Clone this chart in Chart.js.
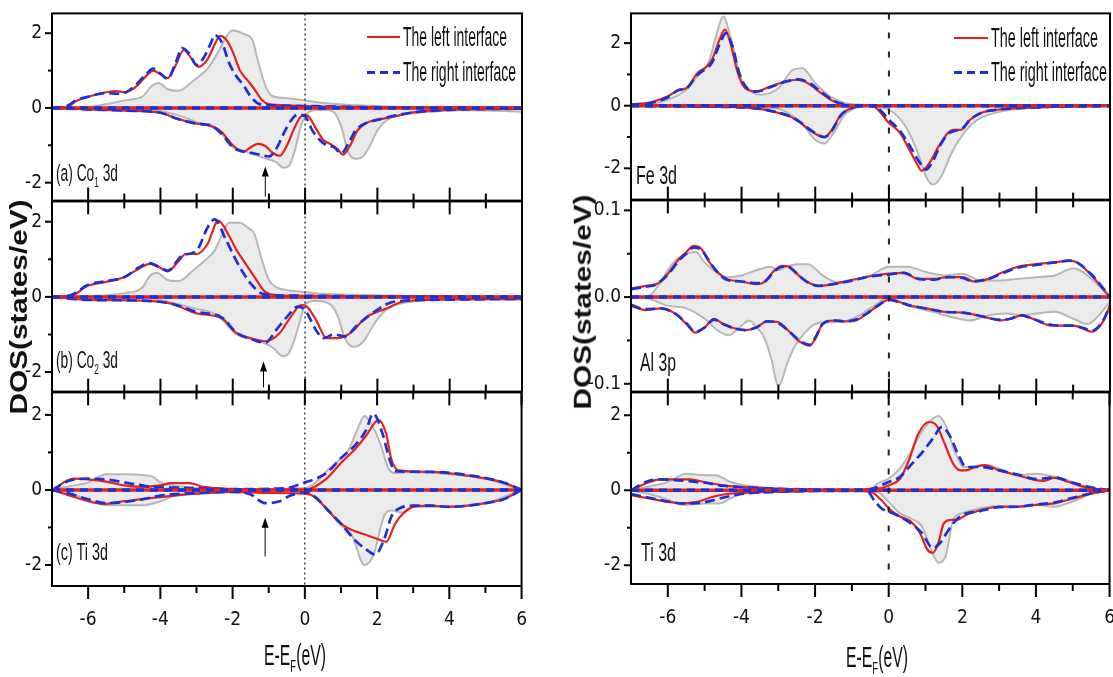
<!DOCTYPE html>
<html>
<head>
<meta charset="utf-8">
<title>DOS interfaces</title>
<script src="https://cdn.jsdelivr.net/npm/chart.js@4.4.1/dist/chart.umd.min.js"></script>
<style>
  html, body { margin: 0; padding: 0; background: #fff; }
  body { position: relative; width: 1113px; height: 677px; overflow: hidden; }
  canvas { position: absolute; }
  .txt { position: absolute; white-space: nowrap; font-family: "Liberation Sans", Arial, sans-serif; color: #111; transform-origin: 0 50%; }
  .txt sub { font-size: 0.6em; vertical-align: -0.4em; line-height: 0; }
  .vt { transform-origin: 50% 50%; font-weight: bold; }
  .key { position: absolute; height: 3px; }
</style>
</head>
<body>
<script>
const RED = '#e2231f', BLUE = '#1f2fd6', GRAY_LINE = '#b7b7b7', GRAY_FILL = '#ebebeb';
const FONT = "'Liberation Sans Narrow', 'DejaVu Sans Condensed', 'Liberation Sans', sans-serif";

// axis ticks
const eMajor = [-6, -4, -2, 0, 2, 4, 6];
const eMinor = [-5, -3, -1, 1, 3, 5];
const dosMajor = [-2, 0, 2];
const dosMinor = [-1, 1];
const alMajor = [-0.1, 0, 0.1];
const alMinor = [-0.05, 0.05];

// arrows in the left column (E, tip, tail)
const arrowE = [-1.1, -1.15, -1.1];
const arrowTip = [-1.57, -1.72, -0.74];
const arrowTail = [-2.37, -2.41, -1.77];

// (a) Co1 3d  -- [E, DOS]
const co1GrayUp = [[-7,0],[-6,0.02],[-5.5,0.1],[-5,0.2],[-4.5,0.3],[-4.25,0.58],[-4.05,0.67],[-3.8,0.5],[-3.5,0.46],[-3.1,0.72],[-2.7,1.05],[-2.4,1.5],[-2.15,1.95],[-2.0,2.07],[-1.7,1.98],[-1.45,1.8],[-1.3,1.25],[-1.1,0.6],[-0.9,0.32],[-0.5,0.26],[0,0.2],[0.5,0.13],[1.5,0.07],[2.5,0.03],[4,0.01],[6,0]];
const co1GrayDown = [[-7,0],[-5,-0.01],[-4,-0.08],[-3.5,-0.2],[-3,-0.38],[-2.5,-0.55],[-2.2,-0.8],[-2.0,-1.05],[-1.7,-1.15],[-1.4,-1.25],[-1.1,-1.35],[-0.8,-1.45],[-0.6,-1.6],[-0.45,-1.55],[-0.3,-1.2],[-0.12,-0.5],[0,-0.22],[0.2,-0.07],[0.5,-0.05],[0.8,-0.12],[1.0,-0.5],[1.2,-1.2],[1.4,-1.36],[1.6,-1.3],[1.8,-1.0],[2.0,-0.6],[2.3,-0.3],[2.7,-0.18],[3.5,-0.1],[4.5,-0.06],[6,-0.1]];
const co1LeftUp = [[-7,0],[-6.6,0.02],[-6.3,0.2],[-6,0.3],[-5.5,0.42],[-5.2,0.45],[-5,0.42],[-4.7,0.55],[-4.4,0.85],[-4.2,1.0],[-4.0,0.9],[-3.8,0.8],[-3.6,1.1],[-3.35,1.55],[-3.2,1.4],[-2.95,1.1],[-2.7,1.3],[-2.5,1.7],[-2.35,1.93],[-2.2,1.85],[-2.0,1.5],[-1.8,1.0],[-1.6,0.75],[-1.4,0.5],[-1.2,0.22],[-1.0,0.1],[-0.5,0.07],[0,0.05],[1,0.03],[3,0.01],[6,0]];
const co1LeftDown = [[-7,0],[-6,-0.04],[-5,-0.07],[-4,-0.13],[-3.5,-0.3],[-3,-0.42],[-2.6,-0.48],[-2.3,-0.65],[-2.0,-1.0],[-1.7,-1.17],[-1.5,-1.05],[-1.3,-0.96],[-1.1,-1.02],[-0.9,-1.2],[-0.7,-1.28],[-0.5,-1.0],[-0.3,-0.55],[-0.1,-0.22],[0.05,-0.2],[0.3,-0.55],[0.5,-0.85],[0.7,-0.97],[0.9,-1.1],[1.05,-1.25],[1.25,-1.0],[1.45,-0.6],[1.7,-0.4],[2.0,-0.32],[2.5,-0.22],[3,-0.12],[4,-0.05],[6,-0.02]];
const co1RightUp = [[-7,0],[-6.6,0.05],[-6.3,0.22],[-6,0.3],[-5.5,0.4],[-5.2,0.38],[-5,0.4],[-4.7,0.6],[-4.4,0.9],[-4.2,1.05],[-4.0,0.92],[-3.8,0.78],[-3.6,1.15],[-3.4,1.6],[-3.2,1.45],[-3.0,1.15],[-2.8,1.35],[-2.6,1.75],[-2.5,1.95],[-2.3,1.75],[-2.1,1.2],[-1.9,0.85],[-1.7,0.6],[-1.5,0.3],[-1.3,0.12],[-1.0,0.07],[0,0.05],[1,0.03],[3,0.01],[6,0]];
const co1RightDown = [[-7,0],[-6,-0.04],[-5,-0.07],[-4,-0.13],[-3.5,-0.3],[-3,-0.42],[-2.6,-0.47],[-2.3,-0.7],[-2.0,-1.05],[-1.7,-1.17],[-1.4,-1.22],[-1.2,-1.26],[-1.0,-1.3],[-0.8,-1.1],[-0.6,-0.7],[-0.4,-0.35],[-0.2,-0.18],[0,-0.22],[0.2,-0.6],[0.4,-0.85],[0.6,-1.0],[0.8,-1.05],[1.0,-1.22],[1.2,-0.95],[1.4,-0.6],[1.7,-0.4],[2.0,-0.32],[2.5,-0.2],[3,-0.12],[4,-0.05],[6,-0.02]];

// (b) Co2 3d
const co2GrayUp = [[-7,0],[-6,0.02],[-5,0.1],[-4.5,0.25],[-4.3,0.55],[-4.1,0.64],[-3.8,0.45],[-3.5,0.42],[-3.1,0.7],[-2.8,0.95],[-2.5,1.23],[-2.3,1.65],[-2.1,1.97],[-1.8,1.97],[-1.6,1.85],[-1.4,1.67],[-1.2,1.0],[-1.0,0.45],[-0.8,0.26],[-0.5,0.18],[0,0.13],[0.5,0.08],[1.5,0.05],[3,0.02],[6,0]];
const co2GrayDown = [[-7,0],[-5,-0.01],[-4,-0.08],[-3.5,-0.2],[-3,-0.32],[-2.5,-0.45],[-2.2,-0.7],[-1.9,-1.0],[-1.5,-1.12],[-1.2,-1.2],[-0.9,-1.35],[-0.6,-1.58],[-0.45,-1.5],[-0.3,-1.15],[-0.1,-0.5],[0,-0.2],[0.3,-0.1],[0.7,-0.2],[0.9,-0.5],[1.1,-1.1],[1.35,-1.33],[1.6,-1.2],[1.8,-0.9],[2.0,-0.6],[2.3,-0.3],[2.8,-0.15],[4,-0.07],[6,-0.08]];
const co2LeftUp = [[-7,0],[-6.5,0.02],[-6,0.3],[-5.5,0.4],[-5,0.53],[-4.6,0.75],[-4.3,0.88],[-4.05,0.8],[-3.8,0.68],[-3.5,0.95],[-3.3,1.14],[-3.0,1.14],[-2.7,1.4],[-2.4,2.03],[-2.1,1.62],[-1.9,1.25],[-1.7,0.96],[-1.4,0.53],[-1.1,0.13],[-0.7,0.04],[0,0.03],[2,0.01],[6,0]];
const co2LeftDown = [[-7,0],[-6,-0.08],[-4.5,-0.1],[-3.7,-0.18],[-3.0,-0.44],[-2.3,-0.57],[-1.9,-0.96],[-1.5,-1.1],[-1.1,-1.18],[-0.7,-0.96],[-0.45,-0.61],[-0.1,-0.22],[0.05,-0.26],[0.3,-0.61],[0.6,-1.1],[0.9,-1.1],[1.1,-1.05],[1.35,-0.88],[1.65,-0.57],[2.25,-0.31],[2.7,-0.13],[3.5,-0.08],[6,-0.05]];
const co2RightUp = [[-7,0],[-6.5,0.04],[-6,0.32],[-5.5,0.42],[-5,0.52],[-4.6,0.78],[-4.3,0.9],[-4.05,0.8],[-3.8,0.7],[-3.4,1.1],[-3.0,1.23],[-2.7,1.84],[-2.5,2.06],[-2.2,1.54],[-1.9,0.96],[-1.7,0.62],[-1.5,0.35],[-1.2,0.09],[-0.8,0.04],[0,0.03],[2,0.01],[6,0]];
const co2RightDown = [[-7,0],[-6,-0.08],[-4.5,-0.1],[-3.7,-0.18],[-3.0,-0.4],[-2.3,-0.55],[-1.9,-0.95],[-1.5,-1.12],[-1.1,-1.22],[-0.8,-0.88],[-0.5,-0.53],[-0.2,-0.26],[0,-0.35],[0.3,-0.88],[0.5,-1.1],[0.8,-1.0],[1.1,-1.05],[1.45,-0.75],[2.05,-0.31],[2.45,-0.13],[3.5,-0.08],[6,-0.05]];

// (c) Ti 3d, left column
const ti1GrayUp = [[-7,0],[-6.5,0.1],[-6,0.2],[-5.5,0.42],[-5,0.42],[-4.5,0.4],[-4.2,0.35],[-4,0.2],[-3.5,0.1],[-2,0.02],[0,0.05],[0.3,0.2],[0.6,0.5],[0.9,0.75],[1.2,1.05],[1.45,1.6],[1.65,1.97],[1.85,1.75],[2.1,1.2],[2.3,0.6],[2.5,0.45],[3,0.48],[4,0.42],[5,0.3],[6,0]];
const ti1GrayDown = [[-7,0],[-6.5,-0.1],[-6,-0.25],[-5.5,-0.41],[-4.5,-0.41],[-4,-0.3],[-3.5,-0.12],[-2.5,-0.04],[0,-0.05],[0.5,-0.41],[1.0,-0.94],[1.3,-1.2],[1.65,-2.0],[1.9,-1.74],[2.2,-0.68],[2.4,-0.55],[2.7,-0.6],[3,-0.45],[4,-0.45],[5,-0.35],[6,0]];
const ti1LeftUp = [[-7,0],[-6.4,0.3],[-6,0.28],[-5.5,0.22],[-5,0.12],[-4.5,0.08],[-4.0,0.12],[-3.7,0.18],[-3.2,0.18],[-2.8,0.08],[-2,0.02],[-1,0.0],[0,0.0],[0.3,0.1],[0.6,0.3],[1.0,0.72],[1.4,1.1],[1.7,1.45],[2.04,1.87],[2.25,1.5],[2.4,0.8],[2.6,0.52],[3.5,0.48],[4.5,0.38],[5.5,0.2],[6,0]];
const ti1LeftDown = [[-7,0],[-6.5,-0.15],[-6,-0.3],[-5.6,-0.37],[-5,-0.3],[-4,-0.19],[-3,-0.1],[-2,-0.05],[-1,-0.08],[0,-0.1],[0.3,-0.2],[0.6,-0.5],[1.0,-0.9],[1.3,-1.07],[1.7,-1.2],[2.0,-1.3],[2.25,-1.38],[2.5,-0.9],[2.7,-0.65],[3.0,-0.45],[3.5,-0.42],[4.0,-0.45],[4.5,-0.42],[5,-0.35],[5.5,-0.25],[6,0]];
const ti1RightUp = [[-7,0],[-6.5,0.25],[-6,0.3],[-5.5,0.28],[-5,0.2],[-4.5,0.12],[-4.2,0.08],[-3.5,0.06],[-2,0.02],[-0.5,0.05],[0,0.2],[0.3,0.3],[0.6,0.45],[1.0,0.85],[1.4,1.2],[1.7,1.6],[1.89,2.04],[2.15,1.5],[2.35,0.8],[2.5,0.5],[3.5,0.48],[4.5,0.4],[5.5,0.2],[6,0]];
const ti1RightDown = [[-7,0],[-6.5,-0.1],[-6,-0.25],[-5.5,-0.35],[-5,-0.32],[-4.5,-0.25],[-4,-0.15],[-3,-0.08],[-2,-0.05],[-1.5,-0.12],[-1.1,-0.35],[-0.7,-0.3],[-0.4,-0.15],[0,-0.05],[0.3,-0.2],[0.6,-0.5],[1.0,-0.9],[1.4,-1.35],[1.65,-1.55],[1.95,-1.72],[2.2,-1.3],[2.4,-0.7],[2.6,-0.5],[3,-0.42],[3.5,-0.42],[4,-0.45],[4.5,-0.42],[5,-0.35],[5.5,-0.25],[6,0]];

// Fe 3d
const feGrayUp = [[-7,0.02],[-6.5,0.05],[-6,0.19],[-5.5,0.51],[-5.2,0.94],[-4.9,1.36],[-4.65,2.4],[-4.5,2.85],[-4.3,2.2],[-4.1,1.2],[-4.0,0.83],[-3.8,0.51],[-3.5,0.35],[-3.0,0.56],[-2.6,1.15],[-2.35,1.2],[-2.0,0.72],[-1.6,0.3],[-1.2,0.09],[-0.8,0.03],[0,0.02],[6,0]];
const feGrayDown = [[-7,0],[-5,-0.02],[-4,-0.05],[-3,-0.1],[-2.6,-0.34],[-2.3,-0.66],[-2.0,-1.09],[-1.75,-1.21],[-1.5,-0.87],[-1.2,-0.29],[-0.9,-0.07],[-0.5,0],[-0.2,-0.05],[0.1,-0.2],[0.45,-0.66],[0.75,-1.4],[1.05,-2.36],[1.2,-2.52],[1.42,-2.26],[1.7,-1.51],[2.1,-0.77],[2.4,-0.45],[3.05,-0.18],[4.0,-0.07],[6,0]];
const feLeftUp = [[-7,0.05],[-6.5,0.1],[-6,0.3],[-5.7,0.51],[-5.5,0.56],[-5.2,1.04],[-4.95,1.25],[-4.8,1.47],[-4.6,2.1],[-4.45,2.43],[-4.3,2.0],[-4.1,1.04],[-3.9,0.56],[-3.6,0.46],[-3.2,0.62],[-2.8,0.78],[-2.5,0.83],[-2.2,0.72],[-1.9,0.46],[-1.5,0.14],[-1.2,0.03],[-0.5,0],[0,0.01],[6,0]];
const feLeftDown = [[-7,0],[-5,-0.03],[-4,-0.05],[-3.5,-0.1],[-3.0,-0.23],[-2.7,-0.34],[-2.4,-0.55],[-2.1,-0.82],[-1.75,-1.01],[-1.55,-0.77],[-1.3,-0.29],[-1.0,-0.07],[-0.6,0],[-0.35,-0.07],[0,-0.55],[0.3,-0.87],[0.55,-1.4],[0.75,-1.83],[0.88,-2.08],[1.1,-1.83],[1.35,-1.3],[1.6,-0.87],[1.75,-0.77],[1.95,-0.77],[2.2,-0.45],[2.5,-0.23],[3.0,-0.12],[4,-0.05],[6,0]];
const feRightUp = [[-7,0.03],[-6.5,0.08],[-6,0.27],[-5.7,0.5],[-5.5,0.55],[-5.2,0.98],[-4.95,1.2],[-4.8,1.38],[-4.6,1.95],[-4.42,2.32],[-4.25,1.9],[-4.05,1.0],[-3.85,0.56],[-3.6,0.45],[-3.2,0.6],[-2.8,0.77],[-2.45,0.84],[-2.15,0.72],[-1.85,0.45],[-1.45,0.13],[-1.15,0.03],[-0.5,0],[0,0.01],[6,0]];
const feRightDown = [[-7,0],[-5,-0.03],[-4,-0.05],[-3.5,-0.1],[-3.0,-0.22],[-2.7,-0.33],[-2.4,-0.53],[-2.1,-0.8],[-1.75,-1.0],[-1.55,-0.8],[-1.3,-0.3],[-1.0,-0.07],[-0.6,0],[-0.3,-0.08],[0,-0.45],[0.3,-0.8],[0.6,-1.35],[0.8,-1.75],[1.0,-2.04],[1.2,-1.75],[1.4,-1.25],[1.6,-0.9],[1.8,-0.8],[2.0,-0.72],[2.2,-0.45],[2.5,-0.23],[3.0,-0.12],[4,-0.05],[6,0]];

// Al 3p
const alGrayUp = [[-7,0],[-6.5,0.002],[-6.2,0.017],[-5.9,0.037],[-5.6,0.048],[-5.25,0.052],[-5.0,0.04],[-4.7,0.029],[-4.4,0.023],[-4.0,0.025],[-3.6,0.031],[-3.2,0.035],[-3.0,0.031],[-2.8,0.035],[-2.5,0.038],[-2.2,0.038],[-1.8,0.025],[-1.4,0.017],[-1.0,0.019],[-0.5,0.025],[0,0.035],[0.5,0.035],[1.0,0.029],[1.5,0.025],[2.0,0.027],[2.5,0.019],[3.0,0.019],[3.5,0.021],[4.0,0.023],[4.5,0.025],[5.0,0.033],[5.3,0.028],[5.6,0.017],[6,0]];
const alGrayDown = [[-7,0],[-6.5,-0.002],[-6,-0.01],[-5.5,-0.013],[-5.0,-0.025],[-4.6,-0.04],[-4.35,-0.044],[-4.0,-0.033],[-3.8,-0.027],[-3.55,-0.037],[-3.4,-0.045],[-3.2,-0.07],[-3.0,-0.103],[-2.75,-0.075],[-2.55,-0.056],[-2.3,-0.042],[-2.0,-0.031],[-1.6,-0.029],[-1.2,-0.028],[-0.8,-0.021],[-0.4,-0.01],[0,0],[0.4,-0.008],[0.8,-0.013],[1.2,-0.017],[1.7,-0.023],[2.2,-0.027],[2.7,-0.021],[3.2,-0.019],[3.6,-0.021],[4.0,-0.019],[4.5,-0.017],[5.0,-0.025],[5.4,-0.031],[5.7,-0.021],[6,-0.005]];
const alLeftUp = [[-7,0.01],[-6.6,0.013],[-6.3,0.015],[-6.0,0.027],[-5.7,0.044],[-5.5,0.052],[-5.3,0.059],[-5.1,0.056],[-4.9,0.042],[-4.7,0.031],[-4.4,0.021],[-4.0,0.018],[-3.6,0.015],[-3.4,0.017],[-3.1,0.031],[-2.9,0.036],[-2.7,0.035],[-2.45,0.025],[-2.2,0.017],[-1.9,0.013],[-1.5,0.015],[-1.0,0.02],[-0.5,0.024],[0,0.027],[0.4,0.028],[0.8,0.021],[1.2,0.021],[1.6,0.023],[2.0,0.023],[2.3,0.018],[2.7,0.021],[3.0,0.027],[3.5,0.035],[4.0,0.038],[4.5,0.04],[4.9,0.042],[5.1,0.04],[5.5,0.025],[5.8,0.01],[6,0]];
const alLeftDown = [[-7,-0.01],[-6.6,-0.015],[-6.2,-0.013],[-5.8,-0.019],[-5.5,-0.031],[-5.25,-0.041],[-5.0,-0.035],[-4.75,-0.025],[-4.5,-0.031],[-4.2,-0.036],[-3.9,-0.038],[-3.6,-0.035],[-3.3,-0.028],[-3.0,-0.029],[-2.7,-0.04],[-2.4,-0.052],[-2.15,-0.056],[-2.0,-0.048],[-1.8,-0.031],[-1.5,-0.027],[-1.2,-0.028],[-0.9,-0.027],[-0.6,-0.019],[-0.3,-0.01],[0,-0.003],[0.3,-0.006],[0.6,-0.01],[1.0,-0.013],[1.5,-0.017],[2.0,-0.018],[2.4,-0.021],[2.8,-0.025],[3.0,-0.027],[3.3,-0.025],[3.6,-0.021],[3.9,-0.025],[4.3,-0.032],[4.6,-0.033],[5.0,-0.033],[5.3,-0.037],[5.5,-0.04],[5.8,-0.029],[6,-0.01]];
const alRightUp = [[-7,0.009],[-6.6,0.012],[-6.3,0.015],[-6.0,0.026],[-5.7,0.042],[-5.5,0.05],[-5.3,0.057],[-5.1,0.055],[-4.9,0.043],[-4.7,0.031],[-4.4,0.02],[-4.0,0.018],[-3.6,0.016],[-3.4,0.017],[-3.1,0.03],[-2.9,0.035],[-2.7,0.034],[-2.45,0.025],[-2.2,0.017],[-1.9,0.013],[-1.5,0.015],[-1.0,0.019],[-0.5,0.024],[0,0.026],[0.4,0.028],[0.8,0.021],[1.2,0.02],[1.6,0.023],[2.0,0.022],[2.3,0.018],[2.7,0.021],[3.0,0.026],[3.5,0.034],[4.0,0.037],[4.5,0.04],[4.9,0.042],[5.1,0.04],[5.5,0.026],[5.8,0.011],[6,0]];
const alRightDown = [[-7,-0.009],[-6.6,-0.014],[-6.2,-0.013],[-5.8,-0.019],[-5.5,-0.03],[-5.25,-0.04],[-5.0,-0.035],[-4.75,-0.026],[-4.5,-0.031],[-4.2,-0.036],[-3.9,-0.038],[-3.6,-0.035],[-3.3,-0.028],[-3.0,-0.03],[-2.7,-0.04],[-2.4,-0.051],[-2.15,-0.055],[-2.0,-0.047],[-1.8,-0.031],[-1.5,-0.027],[-1.2,-0.028],[-0.9,-0.026],[-0.6,-0.019],[-0.3,-0.01],[0,-0.003],[0.3,-0.006],[0.6,-0.01],[1.0,-0.013],[1.5,-0.017],[2.0,-0.018],[2.4,-0.021],[2.8,-0.025],[3.0,-0.026],[3.3,-0.025],[3.6,-0.021],[3.9,-0.025],[4.3,-0.031],[4.6,-0.033],[5.0,-0.033],[5.3,-0.036],[5.5,-0.039],[5.8,-0.028],[6,-0.01]];

// Ti 3d, right column
const ti2GrayUp = [[-7,0],[-6.5,0.1],[-6,0.22],[-5.5,0.44],[-5.0,0.4],[-4.7,0.4],[-4.3,0.22],[-4.0,0.15],[-3,0.05],[-1,0.02],[-0.5,0.03],[-0.3,0.18],[0,0.31],[0.3,0.58],[0.6,1.02],[0.9,1.56],[1.2,1.91],[1.35,1.98],[1.55,1.73],[1.8,1.02],[2.05,0.62],[2.3,0.63],[2.6,0.68],[3.0,0.58],[3.5,0.4],[4.0,0.44],[4.5,0.36],[5.0,0.22],[5.5,0.05],[6,0]];
const ti2GrayDown = [[-7,0],[-6.5,-0.1],[-6,-0.25],[-5.6,-0.39],[-5.0,-0.35],[-4.6,-0.35],[-4.3,-0.22],[-4.0,-0.1],[-3,-0.04],[-1,-0.02],[-0.3,-0.05],[0,-0.31],[0.3,-0.61],[0.6,-0.75],[0.9,-0.96],[1.15,-1.58],[1.35,-1.93],[1.55,-1.75],[1.75,-0.79],[2.0,-0.61],[2.5,-0.48],[3.0,-0.42],[3.5,-0.44],[4.0,-0.39],[4.5,-0.44],[5.0,-0.3],[5.5,-0.1],[6,0]];
const ti2LeftUp = [[-7,0],[-6.6,0.18],[-6.2,0.29],[-5.8,0.29],[-5.4,0.29],[-5.0,0.22],[-4.5,0.13],[-4.0,0.09],[-3.0,0.04],[-2,0.02],[-1,0.01],[-0.5,0.03],[-0.2,0.06],[0,0.13],[0.3,0.3],[0.55,0.8],[0.8,1.5],[1.1,1.82],[1.3,1.73],[1.5,1.29],[1.75,0.71],[1.95,0.53],[2.1,0.53],[2.35,0.62],[2.6,0.67],[3.0,0.53],[3.5,0.4],[4.0,0.27],[4.2,0.25],[4.5,0.33],[4.9,0.22],[5.3,0.09],[5.6,0.04],[6,0]];
const ti2LeftDown = [[-7,-0.13],[-6.5,-0.22],[-6.0,-0.31],[-5.6,-0.35],[-5.2,-0.31],[-4.8,-0.18],[-4.4,-0.1],[-4.0,-0.07],[-3,-0.04],[-2,-0.02],[-1,-0.02],[-0.5,-0.04],[-0.2,-0.26],[0,-0.48],[0.3,-0.7],[0.6,-0.83],[0.85,-1.14],[1.05,-1.58],[1.2,-1.67],[1.35,-1.4],[1.5,-0.88],[1.7,-0.79],[1.85,-0.79],[2.1,-0.66],[2.5,-0.53],[3.0,-0.44],[3.5,-0.44],[4.0,-0.39],[4.5,-0.35],[5.0,-0.22],[5.5,-0.09],[6,0]];
const ti2RightUp = [[-7,0],[-6.6,0.22],[-6.2,0.29],[-5.8,0.27],[-5.4,0.24],[-5.0,0.2],[-4.5,0.12],[-4.0,0.08],[-3,0.04],[-2,0.02],[-1,0.01],[-0.5,0.03],[0,0.22],[0.3,0.35],[0.6,0.67],[0.9,1.0],[1.2,1.38],[1.45,1.69],[1.65,1.47],[1.9,0.93],[2.1,0.62],[2.5,0.62],[3.0,0.53],[3.5,0.42],[4.0,0.3],[4.5,0.34],[5.0,0.2],[5.5,0.08],[6,0]];
const ti2RightDown = [[-7,-0.1],[-6.5,-0.2],[-6,-0.3],[-5.6,-0.35],[-5.0,-0.32],[-4.6,-0.22],[-4,-0.1],[-3,-0.04],[-2,-0.02],[-1,-0.02],[-0.6,0],[-0.4,-0.26],[-0.2,-0.48],[0,-0.57],[0.3,-0.7],[0.6,-0.88],[0.9,-1.14],[1.2,-1.54],[1.4,-1.4],[1.6,-1.1],[1.8,-0.83],[2.0,-0.66],[2.5,-0.55],[3.0,-0.45],[3.5,-0.44],[4.0,-0.38],[4.5,-0.33],[5.0,-0.2],[5.5,-0.08],[6,0]];

// panel layout (pixels of the plot box) + which data goes in
const PAD = 15, YW = 50, PR = 12, XH = 45;
const fmtInt = v => String(v);
const fmtDec = v => v.toFixed(1);
const panels = [
  {left:52, right:522, top:13, bottom:201, yMin:-2.48, yMax:2.53, major:dosMajor, minor:dosMinor, fmt:fmtInt, first:true, last:false, dash:[2,3], arrow:0,
   curves:[co1GrayUp, co1GrayDown, co1LeftUp, co1LeftDown, co1RightUp, co1RightDown]},
  {left:52, right:522, top:201, bottom:392, yMin:-2.52, yMax:2.54, major:dosMajor, minor:dosMinor, fmt:fmtInt, first:false, last:false, dash:[2,3], arrow:1,
   curves:[co2GrayUp, co2GrayDown, co2LeftUp, co2LeftDown, co2RightUp, co2RightDown]},
  {left:52, right:522, top:392, bottom:586, yMin:-2.56, yMax:2.6, major:dosMajor, minor:dosMinor, fmt:fmtInt, first:false, last:true, dash:[2,3], arrow:2,
   curves:[ti1GrayUp, ti1GrayDown, ti1LeftUp, ti1LeftDown, ti1RightUp, ti1RightDown]},
  {left:631, right:1110, top:13, bottom:200, yMin:-3.0, yMax:2.95, major:dosMajor, minor:dosMinor, fmt:fmtInt, first:true, last:false, dash:[6,13], arrow:-1,
   curves:[feGrayUp, feGrayDown, feLeftUp, feLeftDown, feRightUp, feRightDown]},
  {left:631, right:1110, top:200, bottom:392, yMin:-0.109, yMax:0.1115, major:alMajor, minor:alMinor, fmt:fmtDec, first:false, last:false, dash:[6,13], arrow:-1,
   curves:[alGrayUp, alGrayDown, alLeftUp, alLeftDown, alRightUp, alRightDown]},
  {left:631, right:1110, top:392, bottom:584, yMin:-2.5, yMax:2.61, major:dosMajor, minor:dosMinor, fmt:fmtInt, first:false, last:true, dash:[6,13], arrow:-1,
   curves:[ti2GrayUp, ti2GrayDown, ti2LeftUp, ti2LeftDown, ti2RightUp, ti2RightDown]}
];

function ds(pts, kind) {
  const base = {data: pts.map(([x, y]) => ({x, y})), pointRadius: 0, cubicInterpolationMode: 'monotone', fill: false};
  if (kind === 'gray') return Object.assign(base, {borderColor: GRAY_LINE, borderWidth: 2, backgroundColor: GRAY_FILL, fill: 'origin', order: 3});
  if (kind === 'red') return Object.assign(base, {borderColor: RED, borderWidth: 2.2, order: 2});
  return Object.assign(base, {borderColor: BLUE, borderWidth: 2.7, borderDash: [10, 5], order: 1});
}

function line(ctx, x1, y1, x2, y2) { ctx.beginPath(); ctx.moveTo(x1, y1); ctx.lineTo(x2, y2); ctx.stroke(); }

function framePlugin(p) {
  return {
    id: 'frame',
    afterDatasetsDraw(chart) {
      const {ctx, chartArea: a} = chart;
      const x = chart.scales.x, y = chart.scales.y;
      ctx.save();
      // zero baseline: red with blue dashes on top
      const y0 = y.getPixelForValue(0);
      ctx.lineWidth = 3.5;
      ctx.strokeStyle = RED; line(ctx, a.left, y0, a.right, y0);
      ctx.setLineDash([8, 6]); ctx.strokeStyle = BLUE; line(ctx, a.left, y0, a.right, y0);
      // Fermi level
      const x0 = x.getPixelForValue(0);
      ctx.setLineDash(p.dash); ctx.lineWidth = p.dash[0] > 3 ? 2 : 1.3; ctx.strokeStyle = '#222';
      line(ctx, x0, a.top, x0, a.bottom);
      ctx.setLineDash([]);
      // arrow
      if (p.arrow >= 0) {
        const ax = x.getPixelForValue(arrowE[p.arrow]);
        const tip = y.getPixelForValue(arrowTip[p.arrow]), tail = y.getPixelForValue(arrowTail[p.arrow]);
        ctx.strokeStyle = '#000'; ctx.fillStyle = '#000'; ctx.lineWidth = 1;
        line(ctx, ax, tail, ax, tip + 6);
        ctx.beginPath(); ctx.moveTo(ax, tip); ctx.lineTo(ax - 3.5, tip + 10); ctx.lineTo(ax + 3.5, tip + 10); ctx.closePath(); ctx.fill();
      }
      // box
      ctx.strokeStyle = '#000'; ctx.lineWidth = 2;
      ctx.strokeRect(a.left, a.top, a.right - a.left, a.bottom - a.top);
      // energy ticks
      const eTicks = eMajor.map(v => [v, 13]).concat(eMinor.map(v => [v, 7]));
      eTicks.forEach(([v, len]) => {
        const px = x.getPixelForValue(v);
        if (!p.first) line(ctx, px, a.top, px, a.top + len);
        if (p.last) line(ctx, px, a.bottom, px, a.bottom + len);
        else line(ctx, px, a.bottom, px, a.bottom - len);
      });
      // DOS ticks
      p.major.forEach(v => { const py = y.getPixelForValue(v); line(ctx, a.left - 7, py, a.left, py); });
      p.minor.forEach(v => { const py = y.getPixelForValue(v); line(ctx, a.left - 4, py, a.left, py); });
      ctx.restore();
    }
  };
}

function config(p) {
  const [gu, gd, lu, ld, ru, rd] = p.curves;
  return {
    type: 'line',
    data: {datasets: [ds(gu, 'gray'), ds(gd, 'gray'), ds(lu, 'red'), ds(ld, 'red'), ds(ru, 'blue'), ds(rd, 'blue')]},
    options: {
      responsive: false, animation: false, events: [],
      layout: {padding: {left: 0, right: PR, top: PAD, bottom: PAD}},
      plugins: {legend: {display: false}, tooltip: {enabled: false}},
      scales: {
        x: {
          type: 'linear', min: -7, max: 6,
          grid: {display: false, drawTicks: false}, border: {display: false},
          ticks: {display: p.last, font: {family: FONT, size: 19}, color: '#111', padding: 23, maxRotation: 0, autoSkip: false, callback: v => String(v)},
          afterBuildTicks: s => { s.ticks = eMajor.map(v => ({value: v})); },
          afterFit: s => { s.height = p.last ? XH : 0; }
        },
        y: {
          type: 'linear', min: p.yMin, max: p.yMax,
          grid: {display: false, drawTicks: false}, border: {display: false},
          ticks: {font: {family: FONT, size: 19}, color: '#111', padding: 10, autoSkip: false, callback: v => p.fmt(v)},
          afterBuildTicks: s => { s.ticks = p.major.map(v => ({value: v})); },
          afterFit: s => { s.width = YW; }
        }
      }
    },
    plugins: [framePlugin(p)]
  };
}

// build each panel; if Chart.js moved the plot box (label overflow), rebuild once with a corrected canvas
panels.forEach(p => {
  const pw = p.right - p.left, ph = p.bottom - p.top;
  let w = pw + YW + PR, h = ph + PAD + (p.last ? XH + PAD : PAD);
  let cl = p.left - YW, ct = p.top - PAD;
  for (let pass = 0; pass < 3; pass++) {
    const c = document.createElement('canvas');
    c.width = w; c.height = h;
    c.style.width = w + 'px'; c.style.height = h + 'px';
    c.style.left = cl + 'px'; c.style.top = ct + 'px';
    document.body.appendChild(c);
    const chart = new Chart(c, config(p));
    const a = chart.chartArea;
    const dl = (cl + a.left) - p.left, dr = p.right - (cl + a.right);
    const dt = (ct + a.top) - p.top, db = p.bottom - (ct + a.bottom);
    if (Math.abs(dl) + Math.abs(dr) + Math.abs(dt) + Math.abs(db) < 1 || pass === 2) break;
    chart.destroy(); c.remove();
    cl -= dl; w += dl + dr;
    ct -= dt; h += dt + db;
  }
});

// texts
function label(html, left, cy, width, size, sy) {
  const d = document.createElement('div');
  d.className = 'txt'; d.innerHTML = html;
  d.style.fontSize = size + 'px'; d.style.lineHeight = size + 'px';
  document.body.appendChild(d);
  const sx = width / d.getBoundingClientRect().width;
  d.style.left = left + 'px'; d.style.top = (cy - size / 2) + 'px';
  d.style.transform = 'scale(' + sx + ',' + sy + ')';
}
function vlabel(html, cx, cy, length, size, sy) {
  const d = document.createElement('div');
  d.className = 'txt vt'; d.innerHTML = html;
  d.style.fontSize = size + 'px'; d.style.lineHeight = size + 'px';
  document.body.appendChild(d);
  const w = d.getBoundingClientRect().width;
  d.style.left = (cx - w / 2) + 'px'; d.style.top = (cy - size / 2) + 'px';
  d.style.transform = 'rotate(-90deg) scale(' + (length / w) + ',' + sy + ')';
}
function key(x1, x2, y, dashed) {
  const d = document.createElement('div');
  d.className = 'key';
  d.style.left = x1 + 'px'; d.style.top = (y - 1.5) + 'px'; d.style.width = (x2 - x1) + 'px';
  d.style.background = dashed ? 'repeating-linear-gradient(90deg,' + BLUE + ' 0 8px, transparent 8px 13px)' : RED;
  if (!dashed) { d.style.height = '2.5px'; }
  document.body.appendChild(d);
}

key(367, 400, 37, false); label('The left interface', 403, 37, 104, 17, 1.6);
key(367, 400, 72, true);  label('The right interface', 403, 72, 113, 17, 1.6);
key(954, 988, 38, false); label('The left interface', 991, 38, 107, 17, 1.6);
key(954, 988, 72, true);  label('The right interface', 991, 72, 116, 17, 1.6);

label('(a) Co<sub>1</sub> 3d', 56, 173, 62, 17, 1.45);
label('(b) Co<sub>2</sub> 3d', 56, 360, 62, 17, 1.45);
label('(c) Ti 3d', 56, 552, 52, 17, 1.45);
label('Fe 3d', 636, 175, 41, 17, 1.5);
label('Al 3p', 640, 362, 36, 17, 1.5);
label('Ti 3d', 641, 552, 35, 17, 1.5);

label('E-E<sub>F</sub>(eV)', 264, 655, 62, 20, 1.45);
label('E-E<sub>F</sub>(eV)', 846, 657, 62, 20, 1.45);

vlabel('DOS(states/eV)', 19, 307, 215, 22, 1.05);
vlabel('DOS(states/eV)', 583, 302, 215, 22, 1.05);
</script>
</body>
</html>
